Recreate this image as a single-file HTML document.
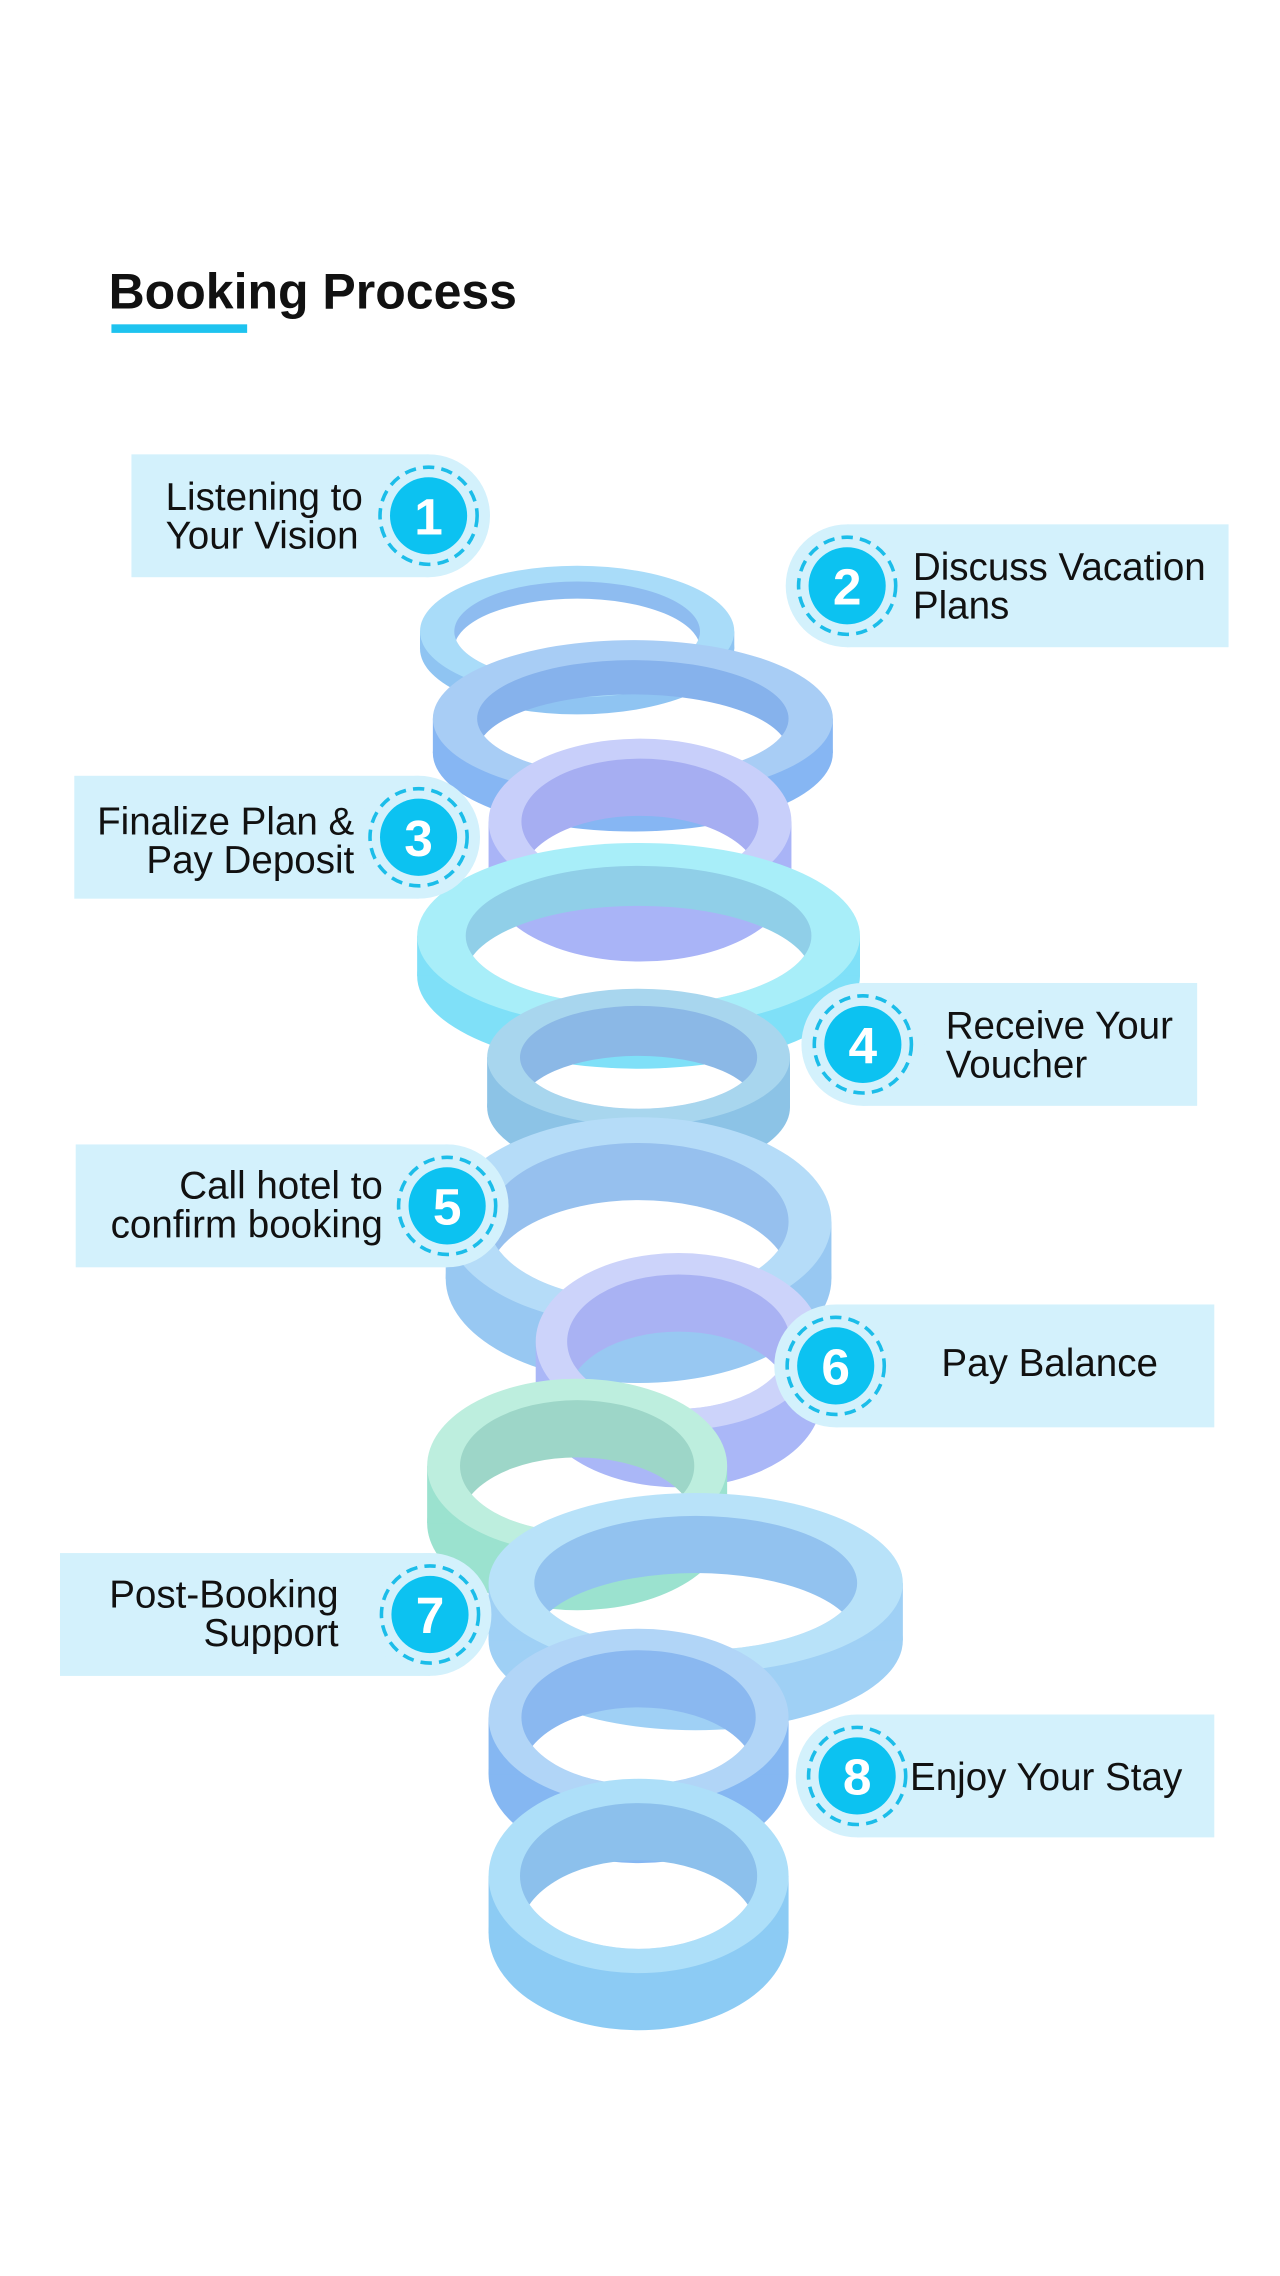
<!DOCTYPE html>
<html><head><meta charset="utf-8"><style>
html,body{margin:0;padding:0;background:#fff;}
svg{display:block;}
text{font-family:"Liberation Sans",sans-serif;}
</style></head><body>
<svg width="1280" height="2276" viewBox="0 0 896 1593" preserveAspectRatio="none" xmlns="http://www.w3.org/2000/svg">
<defs>
<clipPath id="c1"><ellipse cx="404" cy="442" rx="86" ry="35"/></clipPath>
<clipPath id="c2"><ellipse cx="443" cy="503" rx="109" ry="41"/></clipPath>
<clipPath id="c3"><ellipse cx="448" cy="575" rx="83" ry="44"/></clipPath>
<clipPath id="c4"><ellipse cx="447" cy="655" rx="121" ry="49"/></clipPath>
<clipPath id="c5"><ellipse cx="447" cy="740" rx="83" ry="36"/></clipPath>
<clipPath id="c6"><ellipse cx="447" cy="855" rx="105" ry="55"/></clipPath>
<clipPath id="c7"><ellipse cx="475" cy="939" rx="78" ry="47"/></clipPath>
<clipPath id="c8"><ellipse cx="404" cy="1026" rx="82" ry="46"/></clipPath>
<clipPath id="c9"><ellipse cx="487" cy="1108" rx="113" ry="47"/></clipPath>
<clipPath id="c10"><ellipse cx="447" cy="1202" rx="82" ry="47"/></clipPath>
<clipPath id="c11"><ellipse cx="447" cy="1313" rx="83" ry="51"/></clipPath>
<mask id="m1" maskUnits="userSpaceOnUse" x="0" y="0" width="896" height="1593"><rect width="896" height="1593" fill="#fff"/><ellipse cx="404" cy="454" rx="86" ry="35" fill="#000" clip-path="url(#c1)"/></mask>
<mask id="m2" maskUnits="userSpaceOnUse" x="0" y="0" width="896" height="1593"><rect width="896" height="1593" fill="#fff"/><ellipse cx="443" cy="527" rx="109" ry="41" fill="#000" clip-path="url(#c2)"/></mask>
<mask id="m3" maskUnits="userSpaceOnUse" x="0" y="0" width="896" height="1593"><rect width="896" height="1593" fill="#fff"/><ellipse cx="448" cy="615" rx="83" ry="44" fill="#000" clip-path="url(#c3)"/></mask>
<mask id="m4" maskUnits="userSpaceOnUse" x="0" y="0" width="896" height="1593"><rect width="896" height="1593" fill="#fff"/><ellipse cx="447" cy="683" rx="121" ry="49" fill="#000" clip-path="url(#c4)"/></mask>
<mask id="m5" maskUnits="userSpaceOnUse" x="0" y="0" width="896" height="1593"><rect width="896" height="1593" fill="#fff"/><ellipse cx="447" cy="775" rx="83" ry="36" fill="#000" clip-path="url(#c5)"/></mask>
<mask id="m6" maskUnits="userSpaceOnUse" x="0" y="0" width="896" height="1593"><rect width="896" height="1593" fill="#fff"/><ellipse cx="447" cy="895" rx="105" ry="55" fill="#000" clip-path="url(#c6)"/></mask>
<mask id="m7" maskUnits="userSpaceOnUse" x="0" y="0" width="896" height="1593"><rect width="896" height="1593" fill="#fff"/><ellipse cx="475" cy="979" rx="78" ry="47" fill="#000" clip-path="url(#c7)"/></mask>
<mask id="m8" maskUnits="userSpaceOnUse" x="0" y="0" width="896" height="1593"><rect width="896" height="1593" fill="#fff"/><ellipse cx="404" cy="1066" rx="82" ry="46" fill="#000" clip-path="url(#c8)"/></mask>
<mask id="m9" maskUnits="userSpaceOnUse" x="0" y="0" width="896" height="1593"><rect width="896" height="1593" fill="#fff"/><ellipse cx="487" cy="1148" rx="113" ry="47" fill="#000" clip-path="url(#c9)"/></mask>
<mask id="m10" maskUnits="userSpaceOnUse" x="0" y="0" width="896" height="1593"><rect width="896" height="1593" fill="#fff"/><ellipse cx="447" cy="1242" rx="82" ry="47" fill="#000" clip-path="url(#c10)"/></mask>
<mask id="m11" maskUnits="userSpaceOnUse" x="0" y="0" width="896" height="1593"><rect width="896" height="1593" fill="#fff"/><ellipse cx="447" cy="1353" rx="83" ry="51" fill="#000" clip-path="url(#c11)"/></mask>
</defs>
<rect width="896" height="1593" fill="#fff"/>
<text x="76" y="216" font-size="35" font-weight="bold" fill="#111">Booking Process</text>
<rect x="78" y="227" width="95" height="6" fill="#1ec3ef"/>

<g mask="url(#m1)"><ellipse cx="404" cy="454" rx="110" ry="46" fill="#8fc4f2"/><rect x="294" y="442" width="220" height="12" fill="#8fc4f2"/><ellipse cx="404" cy="442" rx="110" ry="46" fill="#a9dcf9"/><ellipse cx="404" cy="442" rx="86" ry="35" fill="#8ebcf0"/></g>
<g mask="url(#m2)"><ellipse cx="443" cy="527" rx="140" ry="55" fill="#86b6f3"/><rect x="303" y="503" width="280" height="24" fill="#86b6f3"/><ellipse cx="443" cy="503" rx="140" ry="55" fill="#a8cdf5"/><ellipse cx="443" cy="503" rx="109" ry="41" fill="#86b2ec"/></g>
<g mask="url(#m3)"><ellipse cx="448" cy="615" rx="106" ry="58" fill="#a9b4f7"/><rect x="342" y="575" width="212" height="40" fill="#a9b4f7"/><ellipse cx="448" cy="575" rx="106" ry="58" fill="#c8cffa"/><ellipse cx="448" cy="575" rx="83" ry="44" fill="#a6aef2"/></g>
<g mask="url(#m4)"><ellipse cx="447" cy="683" rx="155" ry="65" fill="#7fe0f8"/><rect x="292" y="655" width="310" height="28" fill="#7fe0f8"/><ellipse cx="447" cy="655" rx="155" ry="65" fill="#a8eef9"/><ellipse cx="447" cy="655" rx="121" ry="49" fill="#90cfe8"/></g>
<g mask="url(#m5)"><ellipse cx="447" cy="775" rx="106" ry="48" fill="#8cc3e6"/><rect x="341" y="740" width="212" height="35" fill="#8cc3e6"/><ellipse cx="447" cy="740" rx="106" ry="48" fill="#a8d6ee"/><ellipse cx="447" cy="740" rx="83" ry="36" fill="#8bb8e6"/></g>
<g mask="url(#m6)"><ellipse cx="447" cy="895" rx="135" ry="73" fill="#98c8f2"/><rect x="312" y="855" width="270" height="40" fill="#98c8f2"/><ellipse cx="447" cy="855" rx="135" ry="73" fill="#b5dcf8"/><ellipse cx="447" cy="855" rx="105" ry="55" fill="#96c0ee"/></g>
<g mask="url(#m7)"><ellipse cx="475" cy="979" rx="100" ry="62" fill="#aab7f7"/><rect x="375" y="939" width="200" height="40" fill="#aab7f7"/><ellipse cx="475" cy="939" rx="100" ry="62" fill="#ccd3fa"/><ellipse cx="475" cy="939" rx="78" ry="47" fill="#a9b2f3"/></g>
<g mask="url(#m8)"><ellipse cx="404" cy="1066" rx="105" ry="61" fill="#9be2cf"/><rect x="299" y="1026" width="210" height="40" fill="#9be2cf"/><ellipse cx="404" cy="1026" rx="105" ry="61" fill="#bdeede"/><ellipse cx="404" cy="1026" rx="82" ry="46" fill="#9dd6c8"/></g>
<g mask="url(#m9)"><ellipse cx="487" cy="1148" rx="145" ry="63" fill="#9fd0f5"/><rect x="342" y="1108" width="290" height="40" fill="#9fd0f5"/><ellipse cx="487" cy="1108" rx="145" ry="63" fill="#b8e2f9"/><ellipse cx="487" cy="1108" rx="113" ry="47" fill="#92c2ef"/></g>
<g mask="url(#m10)"><ellipse cx="447" cy="1242" rx="105" ry="62" fill="#85b7f2"/><rect x="342" y="1202" width="210" height="40" fill="#85b7f2"/><ellipse cx="447" cy="1202" rx="105" ry="62" fill="#b1d5f7"/><ellipse cx="447" cy="1202" rx="82" ry="47" fill="#8ab8f0"/></g>
<g mask="url(#m11)"><ellipse cx="447" cy="1353" rx="105" ry="68" fill="#8ccbf4"/><rect x="342" y="1313" width="210" height="40" fill="#8ccbf4"/><ellipse cx="447" cy="1313" rx="105" ry="68" fill="#addff9"/><ellipse cx="447" cy="1313" rx="83" ry="51" fill="#8cc0ec"/></g>

<g fill="#d3f1fc">
<rect x="92" y="318" width="208" height="86"/><circle cx="300" cy="361" r="43"/>
<rect x="593" y="367" width="267" height="86"/><circle cx="593" cy="410" r="43"/>
<rect x="52" y="543" width="241" height="86"/><circle cx="293" cy="586" r="43"/>
<rect x="604" y="688" width="234" height="86"/><circle cx="604" cy="731" r="43"/>
<rect x="53" y="801" width="260" height="86"/><circle cx="313" cy="844" r="43"/>
<rect x="585" y="913" width="265" height="86"/><circle cx="585" cy="956" r="43"/>
<rect x="42" y="1087" width="259" height="86"/><circle cx="301" cy="1130" r="43"/>
<rect x="600" y="1200" width="250" height="86"/><circle cx="600" cy="1243" r="43"/>
</g>
<g fill="#0cc2f1">
<circle cx="300" cy="361" r="27"/><circle cx="593" cy="410" r="27"/><circle cx="293" cy="586" r="27"/><circle cx="604" cy="731" r="27"/>
<circle cx="313" cy="844" r="27"/><circle cx="585" cy="956" r="27"/><circle cx="301" cy="1130" r="27"/><circle cx="600" cy="1243" r="27"/>
</g>
<g fill="none" stroke="#1bbde9" stroke-width="2.5" stroke-dasharray="8 5">
<circle cx="300" cy="361" r="34"/><circle cx="593" cy="410" r="34"/><circle cx="293" cy="586" r="34"/><circle cx="604" cy="731" r="34"/>
<circle cx="313" cy="844" r="34"/><circle cx="585" cy="956" r="34"/><circle cx="301" cy="1130" r="34"/><circle cx="600" cy="1243" r="34"/>
</g>
<g fill="#fff" font-size="36" font-weight="bold" text-anchor="middle">
<text x="300" y="374">1</text><text x="593" y="423">2</text><text x="293" y="599">3</text><text x="604" y="744">4</text>
<text x="313" y="857">5</text><text x="585" y="969">6</text><text x="301" y="1143">7</text><text x="600" y="1256">8</text>
</g>
<g fill="#111" font-size="27">
<text x="254" y="357" text-anchor="end">Listening to</text><text x="251" y="384" text-anchor="end">Your Vision</text>
<text x="639" y="406">Discuss Vacation</text><text x="639" y="433">Plans</text>
<text x="248" y="584" text-anchor="end">Finalize Plan &amp;</text><text x="248" y="611" text-anchor="end">Pay Deposit</text>
<text x="662" y="727">Receive Your</text><text x="662" y="754">Voucher</text>
<text x="268" y="839" text-anchor="end">Call hotel to</text><text x="268" y="866" text-anchor="end">confirm booking</text>
<text x="659" y="963">Pay Balance</text>
<text x="237" y="1125" text-anchor="end">Post-Booking</text><text x="237" y="1152" text-anchor="end">Support</text>
<text x="637" y="1253">Enjoy Your Stay</text>
</g>
</svg>
</body></html>
